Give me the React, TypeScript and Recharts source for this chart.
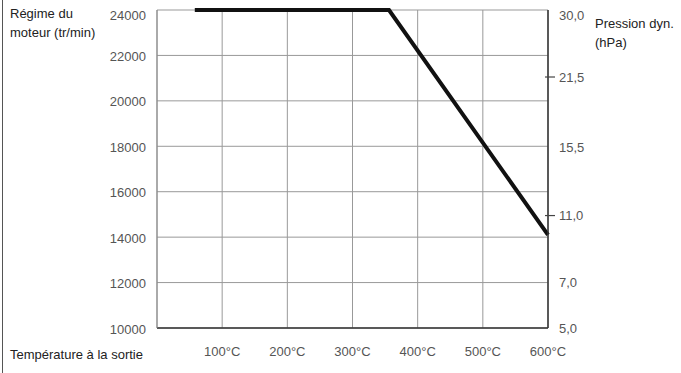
import { CartesianGrid, Line, LineChart, XAxis, YAxis } from "recharts";

const temperatures = [100, 200, 300, 400, 500, 600];
const rpmTicks = [10000, 12000, 14000, 16000, 18000, 20000, 22000, 24000];

// pressure labels sit on the rpm scale (right axis is not linear)
const pressureLabels = ["30,0", "21,5", "15,5", "11,0", "7,0", "5,0"];
const pressureAtRpm = [24000, 21050, 17950, 14950, 12000, 10000];
const pressureMarked = ["21,5", "11,0"];

const curveTemp = [58, 356, 600];
const curveRpm = [24000, 24000, 14100];

const data = curveTemp.map((t, i) => ({ temp: t, rpm: curveRpm[i] }));

const FONT = '"Liberation Sans", Arial, sans-serif';
const FS = 13;

function LeftTick(props: any) {
  const { x, y, payload } = props;
  const shift = payload.value === 24000 ? 5 : 1;
  return (
    <text x={x} y={y + shift} dy="0.35em" textAnchor="end" fontSize={FS} fill="#555" fontFamily={FONT}>
      {payload.value}
    </text>
  );
}

function RightTick(props: any) {
  const { x, y, payload } = props;
  const label = pressureLabels[pressureAtRpm.indexOf(payload.value)];
  const shift = payload.value === 24000 ? 5 : 0;
  const marked = pressureMarked.includes(label);
  return (
    <g>
      {marked && <line x1={x - 14} x2={x - 4} y1={y} y2={y} stroke="#444" strokeWidth={1.2} />}
      <text x={x} y={y + shift} dy="0.35em" textAnchor="start" fontSize={FS} fill="#555" fontFamily={FONT}>
        {label}
      </text>
    </g>
  );
}

const textStyle: React.CSSProperties = {
  position: "absolute",
  fontFamily: FONT,
  fontSize: FS,
  color: "#222",
  lineHeight: "19px",
  whiteSpace: "nowrap",
};

export default function App() {
  return (
    <div style={{ position: "absolute", left: 0, top: 0, width: 681, height: 373, background: "#fff" }}>
      <div style={{ position: "absolute", left: 2, top: 0, width: 1, height: 373, background: "#555" }} />
      <div style={{ ...textStyle, left: 10, top: 4 }}>
        Régime du
        <br />
        moteur (tr/min)
      </div>
      <div style={{ ...textStyle, left: 595, top: 14 }}>
        Pression dyn.
        <br />
        (hPa)
      </div>
      <div style={{ ...textStyle, left: 10, top: 345 }}>Température à la sortie</div>
      <LineChart width={681} height={373} data={data} margin={{ top: 10, right: 73, bottom: 0, left: 97 }}>
        <CartesianGrid yAxisId="left" stroke="#999" strokeWidth={1} />
        <XAxis
          dataKey="temp"
          type="number"
          domain={[0, 600]}
          ticks={temperatures}
          tickFormatter={(v) => `${v}°C`}
          tickLine={false}
          tickSize={0}
          tickMargin={19}
          axisLine={{ stroke: "#333", strokeWidth: 1.5 }}
          tick={{ fontSize: FS, fill: "#555", fontFamily: FONT }}
          height={45}
        />
        <YAxis
          yAxisId="left"
          domain={[10000, 24000]}
          ticks={rpmTicks}
          tickLine={false}
          tickSize={0}
          tickMargin={11}
          axisLine={{ stroke: "#888" }}
          tick={<LeftTick />}
          width={60}
        />
        <YAxis
          yAxisId="right"
          orientation="right"
          type="number"
          domain={[10000, 24000]}
          allowDataOverflow
          ticks={pressureAtRpm}
          tickLine={false}
          tickSize={0}
          tickMargin={11}
          axisLine={{ stroke: "#333", strokeWidth: 1.5 }}
          tick={<RightTick />}
          width={60}
        />
        <Line
          yAxisId="left"
          type="linear"
          dataKey="rpm"
          stroke="#111"
          strokeWidth={4}
          dot={false}
          isAnimationActive={false}
        />
      </LineChart>
    </div>
  );
}
